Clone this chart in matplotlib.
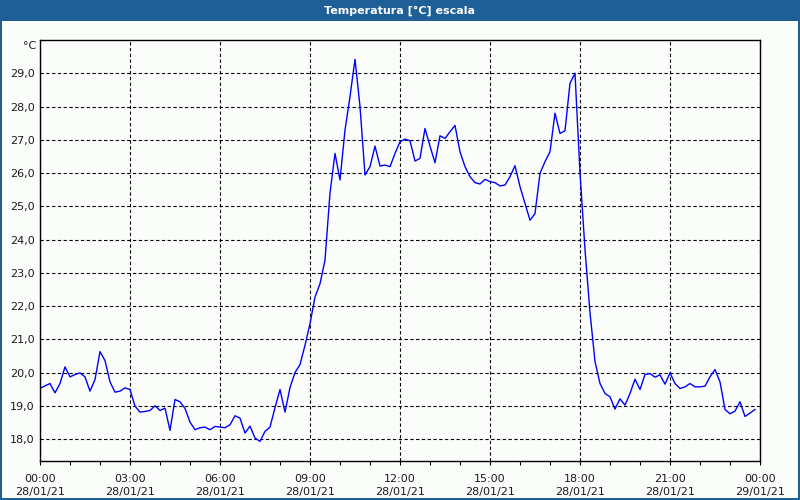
import matplotlib
matplotlib.use("Agg")
import matplotlib.pyplot as plt
from matplotlib.patches import Rectangle
import numpy as np

title = "Temperatura [°C] escala"
unit_label = "°C"

# 10-minute samples from 00:00 to 23:50 on 28/01/21
sample_step_minutes = 10
temperature = [
    19.52, 19.60, 19.67, 19.39, 19.67, 20.17, 19.87, 19.94, 19.99, 19.87,
    19.44, 19.79, 20.63, 20.36, 19.72, 19.41, 19.44, 19.54, 19.49, 18.99,
    18.81, 18.83, 18.86, 19.00, 18.86, 18.93, 18.26, 19.19, 19.12, 18.92,
    18.51, 18.28, 18.34, 18.36, 18.28, 18.38, 18.36, 18.34, 18.43, 18.70,
    18.63, 18.18, 18.39, 18.03, 17.93, 18.23, 18.36, 18.94, 19.49, 18.81,
    19.55, 20.00, 20.24, 20.82, 21.47, 22.27, 22.67, 23.38, 25.40, 26.59,
    25.79, 27.29, 28.30, 29.42, 28.00, 25.94, 26.19, 26.81, 26.21, 26.24,
    26.19, 26.59, 26.94, 27.02, 26.97, 26.36, 26.44, 27.34, 26.81, 26.31,
    27.12, 27.04, 27.24, 27.43, 26.64, 26.19, 25.89, 25.71, 25.67, 25.81,
    25.74, 25.71, 25.61, 25.64, 25.89, 26.22, 25.59, 25.08, 24.58, 24.78,
    25.99, 26.34, 26.64, 27.80, 27.19, 27.27, 28.70, 29.00, 26.00, 23.70,
    21.80, 20.33, 19.67, 19.37, 19.27, 18.90, 19.21, 19.02, 19.37, 19.80,
    19.49, 19.94, 19.97, 19.86, 19.93, 19.65, 19.99, 19.67, 19.52, 19.57,
    19.67, 19.57, 19.57, 19.59, 19.87, 20.09, 19.72, 18.89, 18.76, 18.84,
    19.12, 18.68, 18.78, 18.89,
]

x_tick_hours = [0, 3, 6, 9, 12, 15, 18, 21, 24]
x_tick_labels = [
    "00:00\n28/01/21", "03:00\n28/01/21", "06:00\n28/01/21", "09:00\n28/01/21",
    "12:00\n28/01/21", "15:00\n28/01/21", "18:00\n28/01/21", "21:00\n28/01/21",
    "00:00\n29/01/21",
]
y_ticks = [18, 19, 20, 21, 22, 23, 24, 25, 26, 27, 28, 29]
y_tick_labels = [f"{v},0" for v in y_ticks]

hours = np.arange(len(temperature)) * sample_step_minutes / 60.0

bg = "#FBFDFB"
bar_color = "#1E5F97"

fig = plt.figure(figsize=(8, 5), dpi=100, facecolor=bg)

# title bar and window border
fig.patches.append(Rectangle((0, 1 - 21 / 500), 1, 21 / 500, transform=fig.transFigure,
                             facecolor=bar_color, edgecolor="none", zorder=0))
fig.patches.append(Rectangle((0, 0), 2 / 800, 1, transform=fig.transFigure,
                             facecolor=bar_color, edgecolor="none", zorder=0))
fig.patches.append(Rectangle((1 - 2 / 800, 0), 2 / 800, 1, transform=fig.transFigure,
                             facecolor=bar_color, edgecolor="none", zorder=0))
fig.patches.append(Rectangle((0, 0), 1, 2 / 500, transform=fig.transFigure,
                             facecolor=bar_color, edgecolor="none", zorder=0))
fig.text(0.5, 1 - 10.5 / 500, title, color="white", fontweight="bold",
         fontsize=8, ha="center", va="center", family="DejaVu Sans")

ax = fig.add_axes([40 / 800, 1 - 461 / 500, 720 / 800, 421 / 500])
ax.set_facecolor(bg)
ax.plot(hours, temperature, color="#0000FF", lw=1.0, zorder=3)

ax.set_xlim(0, 24)
ax.set_ylim(17.34, 30.0)

ax.set_xticks(x_tick_hours)
ax.set_xticklabels(x_tick_labels, fontsize=8, linespacing=1.45)
ax.set_xticks(range(0, 25), minor=True)
ax.set_yticks(y_ticks)
ax.set_yticklabels(y_tick_labels, fontsize=8)

ax.tick_params(axis="x", which="both", direction="out", length=3, width=0.8,
               pad=6, colors="black", labelcolor="#1a1a1a")
ax.tick_params(axis="y", length=0, pad=4, labelcolor="#1a1a1a")

ax.grid(True, which="major", color="black", linestyle=(0, (3, 2.2)), linewidth=0.8)
ax.set_axisbelow(True)
# hide the gridlines at the axis edges (0h / 24h) - spines cover them
for spine in ax.spines.values():
    spine.set_color("black")
    spine.set_linewidth(1.0)
    spine.set_zorder(4)

fig.text(36 / 800, 1 - 46 / 500, unit_label, fontsize=8, ha="right", va="center",
         color="#1a1a1a")

fig.savefig("out.png", dpi=100, facecolor=bg)
